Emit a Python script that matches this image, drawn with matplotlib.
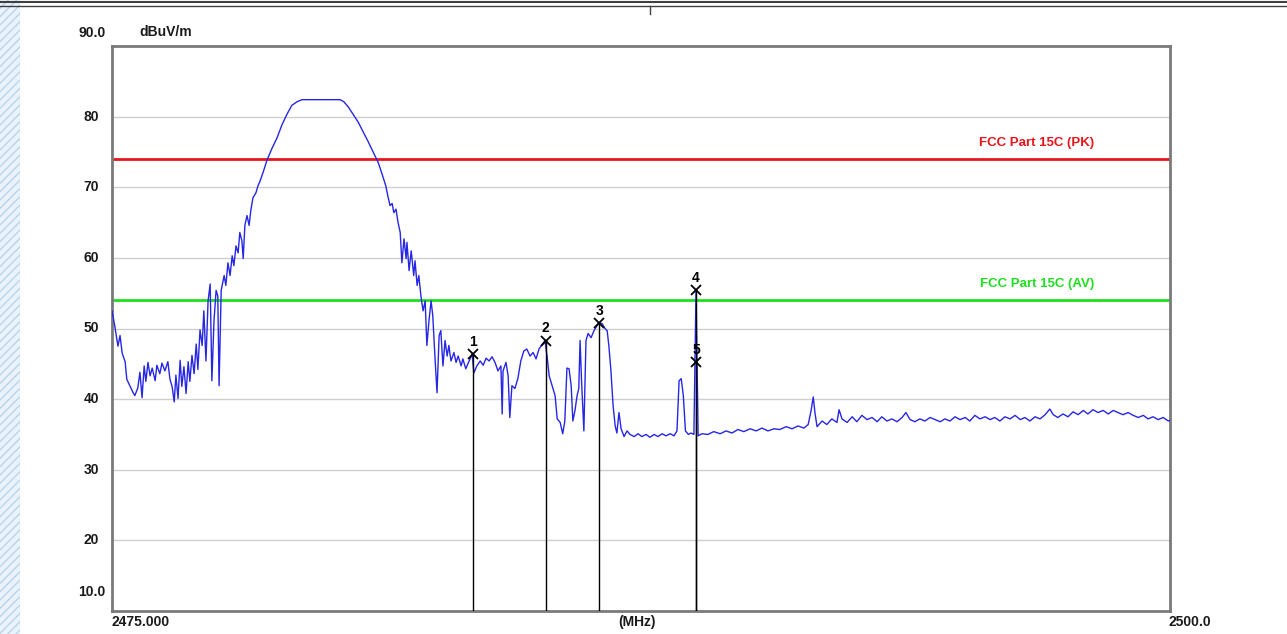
import matplotlib
matplotlib.use("Agg")
import matplotlib.pyplot as plt
from matplotlib.patches import Rectangle
from matplotlib.lines import Line2D

# Spectrum trace (MHz, dBuV/m)
freq_mhz = [
    2475.00, 2475.07, 2475.14, 2475.19, 2475.24, 2475.31, 2475.35, 2475.43, 2475.50, 2475.54,
    2475.61, 2475.66, 2475.71, 2475.76, 2475.80, 2475.85, 2475.90, 2475.95, 2476.02, 2476.06,
    2476.13, 2476.18, 2476.25, 2476.32, 2476.37, 2476.42, 2476.47, 2476.51, 2476.56, 2476.61,
    2476.65, 2476.70, 2476.75, 2476.80, 2476.84, 2476.89, 2476.94, 2476.99, 2477.03, 2477.08,
    2477.13, 2477.17, 2477.22, 2477.27, 2477.32, 2477.36, 2477.41, 2477.46, 2477.50, 2477.53,
    2477.58, 2477.65, 2477.69, 2477.74, 2477.79, 2477.84, 2477.88, 2477.93, 2477.98, 2478.02,
    2478.07, 2478.10, 2478.14, 2478.19, 2478.24, 2478.28, 2478.33, 2478.40, 2478.45, 2478.50,
    2478.57, 2478.66, 2478.78, 2478.90, 2479.02, 2479.14, 2479.25, 2479.37, 2479.49, 2480.39,
    2480.48, 2480.58, 2480.69, 2480.81, 2480.93, 2481.05, 2481.17, 2481.29, 2481.38, 2481.47,
    2481.52, 2481.57, 2481.62, 2481.66, 2481.71, 2481.76, 2481.81, 2481.85, 2481.90, 2481.95,
    2481.97, 2482.02, 2482.07, 2482.13, 2482.16, 2482.21, 2482.25, 2482.30, 2482.35, 2482.40,
    2482.44, 2482.49, 2482.54, 2482.58, 2482.63, 2482.68, 2482.73, 2482.77, 2482.82, 2482.87,
    2482.92, 2482.96, 2483.01, 2483.08, 2483.13, 2483.18, 2483.25, 2483.29, 2483.36, 2483.44,
    2483.51, 2483.55, 2483.62, 2483.70, 2483.77, 2483.84, 2483.91, 2483.98, 2484.05, 2484.12,
    2484.19, 2484.22, 2484.24, 2484.31, 2484.36, 2484.40, 2484.45, 2484.52, 2484.59, 2484.66,
    2484.73, 2484.80, 2484.88, 2484.95, 2485.02, 2485.09, 2485.16, 2485.23, 2485.28, 2485.33,
    2485.40, 2485.47, 2485.52, 2485.59, 2485.65, 2485.70, 2485.75, 2485.80, 2485.85, 2485.89,
    2485.94, 2485.99, 2486.03, 2486.06, 2486.10, 2486.15, 2486.20, 2486.25, 2486.32, 2486.39,
    2486.46, 2486.51, 2486.58, 2486.65, 2486.70, 2486.74, 2486.79, 2486.84, 2486.89, 2486.93,
    2486.98, 2487.03, 2487.10, 2487.17, 2487.24, 2487.34, 2487.43, 2487.52, 2487.62, 2487.71,
    2487.81, 2487.90, 2488.00, 2488.09, 2488.19, 2488.28, 2488.35, 2488.40, 2488.45, 2488.50,
    2488.55, 2488.62, 2488.68, 2488.75, 2488.80, 2488.85, 2488.94, 2489.08, 2489.22, 2489.37,
    2489.51, 2489.65, 2489.79, 2489.93, 2490.08, 2490.22, 2490.36, 2490.50, 2490.64, 2490.78,
    2490.93, 2491.07, 2491.21, 2491.35, 2491.45, 2491.52, 2491.57, 2491.61, 2491.66, 2491.78,
    2491.89, 2492.01, 2492.13, 2492.18, 2492.25, 2492.37, 2492.49, 2492.60, 2492.72, 2492.84,
    2492.96, 2493.08, 2493.19, 2493.31, 2493.43, 2493.55, 2493.67, 2493.76, 2493.86, 2493.97,
    2494.09, 2494.21, 2494.33, 2494.45, 2494.57, 2494.68, 2494.80, 2494.92, 2495.04, 2495.16,
    2495.27, 2495.39, 2495.51, 2495.63, 2495.75, 2495.86, 2495.98, 2496.10, 2496.22, 2496.34,
    2496.46, 2496.57, 2496.69, 2496.81, 2496.93, 2497.05, 2497.16, 2497.24, 2497.35, 2497.47,
    2497.59, 2497.71, 2497.83, 2497.95, 2498.06, 2498.18, 2498.30, 2498.42, 2498.54, 2498.66,
    2498.77, 2498.89, 2499.01, 2499.13, 2499.25, 2499.37, 2499.48, 2499.60, 2499.72, 2499.84,
    2499.96, 2500.00,
]
level_dbuv = [
    52.5, 50.2, 47.5, 49.0, 46.5, 45.3, 42.8, 41.8, 40.9, 40.5,
    41.6, 43.8, 40.2, 44.7, 42.5, 45.2, 43.3, 44.4, 42.6, 44.8,
    43.6, 45.1, 44.0, 45.3, 42.8, 41.8, 39.6, 43.4, 40.1, 45.5,
    41.8, 44.6, 40.8, 45.3, 42.5, 46.2, 43.6, 47.8, 44.2, 49.8,
    47.6, 52.5, 45.4, 53.9, 56.3, 42.6, 51.1, 55.4, 54.6, 41.9,
    55.4, 57.5, 56.1, 59.3, 57.5, 60.3, 58.9, 61.7, 60.7, 63.6,
    62.4, 59.9, 64.6, 66.0, 64.6, 66.7, 68.5, 69.2, 70.2, 70.9,
    72.1, 73.8, 75.5, 77.0, 78.9, 80.4, 81.6, 82.1, 82.4, 82.4,
    82.1, 81.4, 80.4, 79.3, 77.9, 76.5, 75.0, 73.5, 71.9, 70.2,
    68.7, 67.4, 67.7, 66.4, 66.9, 65.0, 63.6, 59.3, 62.7, 59.9,
    62.2, 58.2, 61.0, 57.5, 59.6, 56.1, 57.5, 54.6, 52.5, 53.9,
    47.6, 51.1, 53.9, 51.8, 46.1, 40.9, 49.0, 49.7, 44.7, 48.3,
    46.1, 47.6, 45.4, 46.6, 45.2, 46.1, 44.7, 45.7, 44.3, 45.4,
    46.4, 43.7, 44.7, 45.4, 44.8, 45.8, 45.4, 46.0, 45.2, 44.0,
    44.7, 37.9, 44.0, 45.2, 43.3, 37.4, 41.9, 41.5, 42.9, 45.4,
    46.8, 47.1, 46.1, 46.6, 45.7, 47.1, 47.7, 48.3, 46.1, 43.3,
    41.9, 40.5, 37.2, 36.7, 35.1, 36.9, 44.4, 44.3, 41.9, 36.9,
    38.4, 40.5, 41.5, 48.3, 41.9, 35.5, 48.3, 49.3, 48.7, 49.7,
    50.4, 50.8, 50.7, 50.0, 49.7, 47.6, 44.0, 39.1, 36.2, 35.2,
    38.1, 35.8, 34.7, 35.5, 35.0, 34.7, 35.1, 34.7, 35.0, 34.6,
    35.0, 34.7, 35.1, 34.8, 35.1, 34.8, 35.5, 42.6, 42.9, 40.5,
    35.5, 35.0, 35.2, 35.0, 55.4, 34.8, 35.1, 35.0, 35.4, 35.1,
    35.5, 35.2, 35.7, 35.4, 35.8, 35.5, 35.9, 35.5, 35.8, 35.7,
    36.1, 35.8, 36.2, 35.9, 36.4, 38.4, 40.3, 38.1, 36.1, 36.9,
    36.4, 37.2, 36.7, 38.5, 37.2, 36.7, 37.5, 36.8, 37.7, 37.1,
    37.4, 36.8, 37.5, 36.9, 37.2, 36.8, 37.4, 38.1, 37.1, 36.8,
    37.2, 36.9, 37.4, 37.1, 36.8, 37.2, 36.9, 37.5, 37.1, 37.4,
    36.9, 37.7, 37.2, 37.5, 37.1, 37.4, 36.9, 37.5, 37.2, 37.7,
    37.1, 37.4, 36.9, 37.5, 37.2, 37.8, 38.6, 37.8, 37.4, 37.9,
    37.5, 38.2, 37.8, 38.4, 37.9, 38.5, 38.1, 38.4, 37.9, 38.4,
    38.1, 37.8, 38.1, 37.7, 37.4, 37.7, 37.2, 37.5, 37.1, 37.4,
    36.9, 37.0,
]

# Limit lines
limit_names = ["FCC Part 15C (PK)", "FCC Part 15C (AV)"]
limit_levels = [74.0, 54.0]
limit_colors = ["#e8151b", "#1ee01e"]

# Markers
marker_ids = ["1", "2", "3", "4", "5"]
marker_freq = [2483.52, 2485.25, 2486.51, 2488.80, 2488.80]
marker_level = [46.4, 48.3, 50.8, 55.4, 45.2]

y_ticks = [20, 30, 40, 50, 60, 70, 80]

W, H = 1287, 634
fig = plt.figure(figsize=(W / 100, H / 100), dpi=100)
fig.patch.set_facecolor("white")

# window decorations: hatched left strip and top border
fig.patches.append(Rectangle((0, 0), 20 / W, 1, transform=fig.transFigure,
                             facecolor="#eaf3fb", edgecolor="#b9d3ea", hatch="////",
                             linewidth=0, zorder=0))
fig.lines.append(Line2D([0, 1], [1 - 2 / H, 1 - 2 / H], transform=fig.transFigure,
                        color="#404040", lw=1.5))
fig.lines.append(Line2D([0, 1], [1 - 6 / H, 1 - 6 / H], transform=fig.transFigure,
                        color="#404040", lw=1.0))
fig.lines.append(Line2D([650 / W, 650 / W], [1 - 14 / H, 1 - 6 / H], transform=fig.transFigure,
                        color="#404040", lw=1.0))

ax = fig.add_axes([112 / W, 23 / H, 1058 / W, 565 / H])
ax.set_xlim(2475.0, 2500.0)
ax.set_ylim(10, 90)

for y in y_ticks:
    ax.axhline(y, color="#cfcfcf", lw=1.0, zorder=1)

for name, lvl, col in zip(limit_names, limit_levels, limit_colors):
    ax.axhline(lvl, color=col, lw=2.0, zorder=2)
    ax.text(2496.85, lvl + 2.3, name, color=col, fontsize=9.5, fontweight="bold",
            family="Liberation Sans", ha="center", va="center")

ax.plot(freq_mhz, level_dbuv, color="#2626e6", lw=1.0, zorder=3)

for mid, mf, ml in zip(marker_ids, marker_freq, marker_level):
    ax.vlines(mf, 10, ml, color="black", lw=1.0, zorder=4)
    ax.plot(mf, ml, marker="x", color="black", ms=7, mew=1.3, zorder=5)
    ax.text(mf, ml + 1.7, mid, color="black", fontsize=10, fontweight="bold",
            family="Liberation Sans", ha="center", va="center", zorder=5)

for side in ax.spines.values():
    side.set_color("#7a7a7a")
    side.set_linewidth(2.0)
ax.set_xticks([])
ax.set_yticks([])

txt = dict(fontsize=10, fontweight="bold", family="Liberation Sans", color="#1a1a1a")
for y in y_ticks:
    ax.text(-0.012, (y - 10) / 80, str(y), transform=ax.transAxes, ha="right", va="center", **txt)
ax.text(-0.006, 1.0 + 13 / 565, "90.0", transform=ax.transAxes, ha="right", va="center", **txt)
ax.text(-0.006, 19 / 565, "10.0", transform=ax.transAxes, ha="right", va="center", **txt)
ax.text(0.026, 1.0 + 14 / 565, "dBuV/m", transform=ax.transAxes, ha="left", va="center", **txt)
ax.text(0.027, -11 / 565, "2475.000", transform=ax.transAxes, ha="center", va="center", **txt)
ax.text(0.496, -11 / 565, "(MHz)", transform=ax.transAxes, ha="center", va="center", **txt)
ax.text(1.019, -11 / 565, "2500.0", transform=ax.transAxes, ha="center", va="center", **txt)

plt.savefig("out.png", dpi=100)
